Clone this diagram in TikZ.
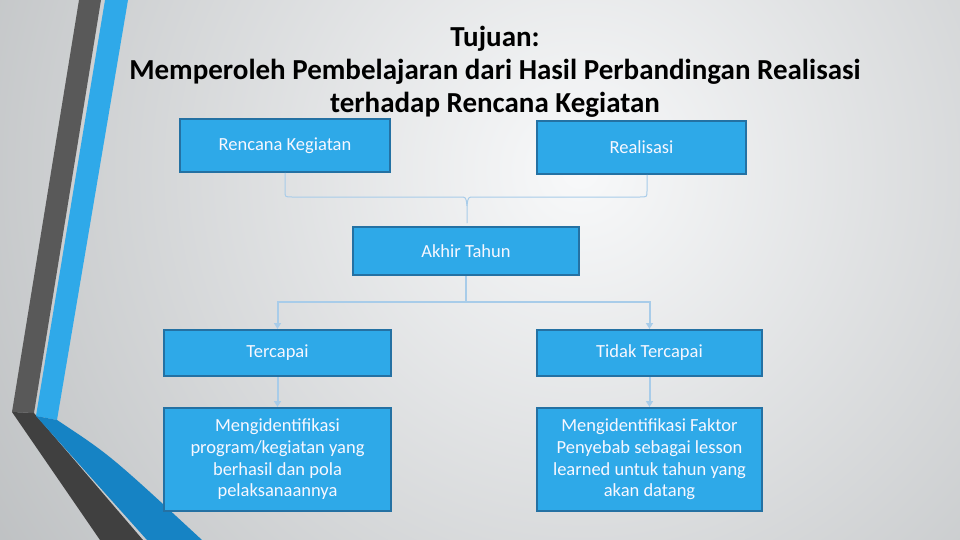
\documentclass[tikz,border=0pt]{standalone}
\usepackage{fontspec}
\setmainfont{Carlito}
\usetikzlibrary{arrows.meta}
\definecolor{boxfill}{RGB}{46,169,232}
\definecolor{boxline}{RGB}{36,113,163}
\definecolor{connc}{RGB}{168,204,233}
\definecolor{grayup}{RGB}{89,89,89}
\definecolor{graylow}{RGB}{64,64,64}
\definecolor{blueup}{RGB}{47,169,233}
\definecolor{bluelow}{RGB}{22,131,196}
\definecolor{bglight}{RGB}{248,249,250}
\definecolor{bgdark}{RGB}{180,183,185}
\tikzset{
  boxnode/.style={draw=boxline, fill=boxfill, line width=2pt, text=white!97!blue,
    inner sep=0pt, align=center, font=\fontsize{18.5}{21.7}\selectfont},
  bracec/.style={draw=connc, line width=1pt},
  arr/.style={draw=connc, line width=2pt, -{Triangle[width=7pt,length=6pt]}},
  titletext/.style={font=\fontsize{29}{33}\selectfont\bfseries, align=center, text=black}
}
\begin{document}
\begin{tikzpicture}[x=1pt,y=-1pt]
\useasboundingbox (0,0) rectangle (960,540);
% background
\begin{scope}
\clip (0,0) rectangle (960,540);
\shade[inner color=bglight, outer color=bgdark] (580,170) circle[radius=820];
\end{scope}
% left decoration
\fill[grayup] (79,0) -- (101,0) -- (34,413) -- (12,412) -- cycle;
\fill[graylow] (12,412) -- (34,413) -- (143,540) -- (100,540) -- cycle;
\fill[blueup] (105,0) -- (128,0) -- (57,420) -- (36,416) -- cycle;
\fill[bluelow] (36,416) -- (57,420) .. controls (110,455) .. (202,540) -- (147,540) -- cycle;
% title
\node[titletext] (title) at (495,72) {Tujuan:\\Memperoleh Pembelajaran dari Hasil Perbandingan Realisasi\\terhadap Rencana Kegiatan};
% boxes
\node[boxnode, minimum width=210pt, minimum height=53pt] (rk) at (285,145.5) {Rencana Kegiatan};
\node[boxnode, minimum width=209pt, minimum height=53pt] (rl) at (641.5,147.5) {Realisasi};
\node[boxnode, minimum width=226pt, minimum height=48pt] (ak) at (466,251) {Akhir Tahun};
\node[boxnode, minimum width=227pt, minimum height=46pt] (tc) at (277.5,353) {Tercapai};
\node[boxnode, minimum width=225pt, minimum height=46pt] (tt) at (649.5,353) {Tidak Tercapai};
\node[boxnode, minimum width=227pt, minimum height=103pt] (ml) at (277.5,459.5) {Mengidentifikasi\\program/kegiatan yang\\berhasil dan pola\\pelaksanaannya};
\node[boxnode, minimum width=225pt, minimum height=103pt] (mr) at (649.5,459.5) {Mengidentifikasi Faktor\\Penyebab sebagai lesson\\learned untuk tahun yang\\akan datang};
% brace
\coordinate (bt) at (467,223);
\coordinate (bm) at (467,206);
\draw[bracec] (rk.south) -- (285,191) .. controls (285,197) .. (292,197) -- (460,197) .. controls (466,197) .. (bm) -- (bt);
\draw[bracec] ([xshift=5.5pt]rl.south) -- (647,191) .. controls (647,197) .. (640,197) -- (474,197) .. controls (468,197) .. (bm);
% arrows
\draw[arr] (ak.south) -- ++(0,26) -| (tc.north);
\draw[arr] (ak.south) -- ++(0,26) -| (tt.north);
\draw[arr] (tc.south) -- (ml.north);
\draw[arr] (tt.south) -- (mr.north);
\end{tikzpicture}
\end{document}
